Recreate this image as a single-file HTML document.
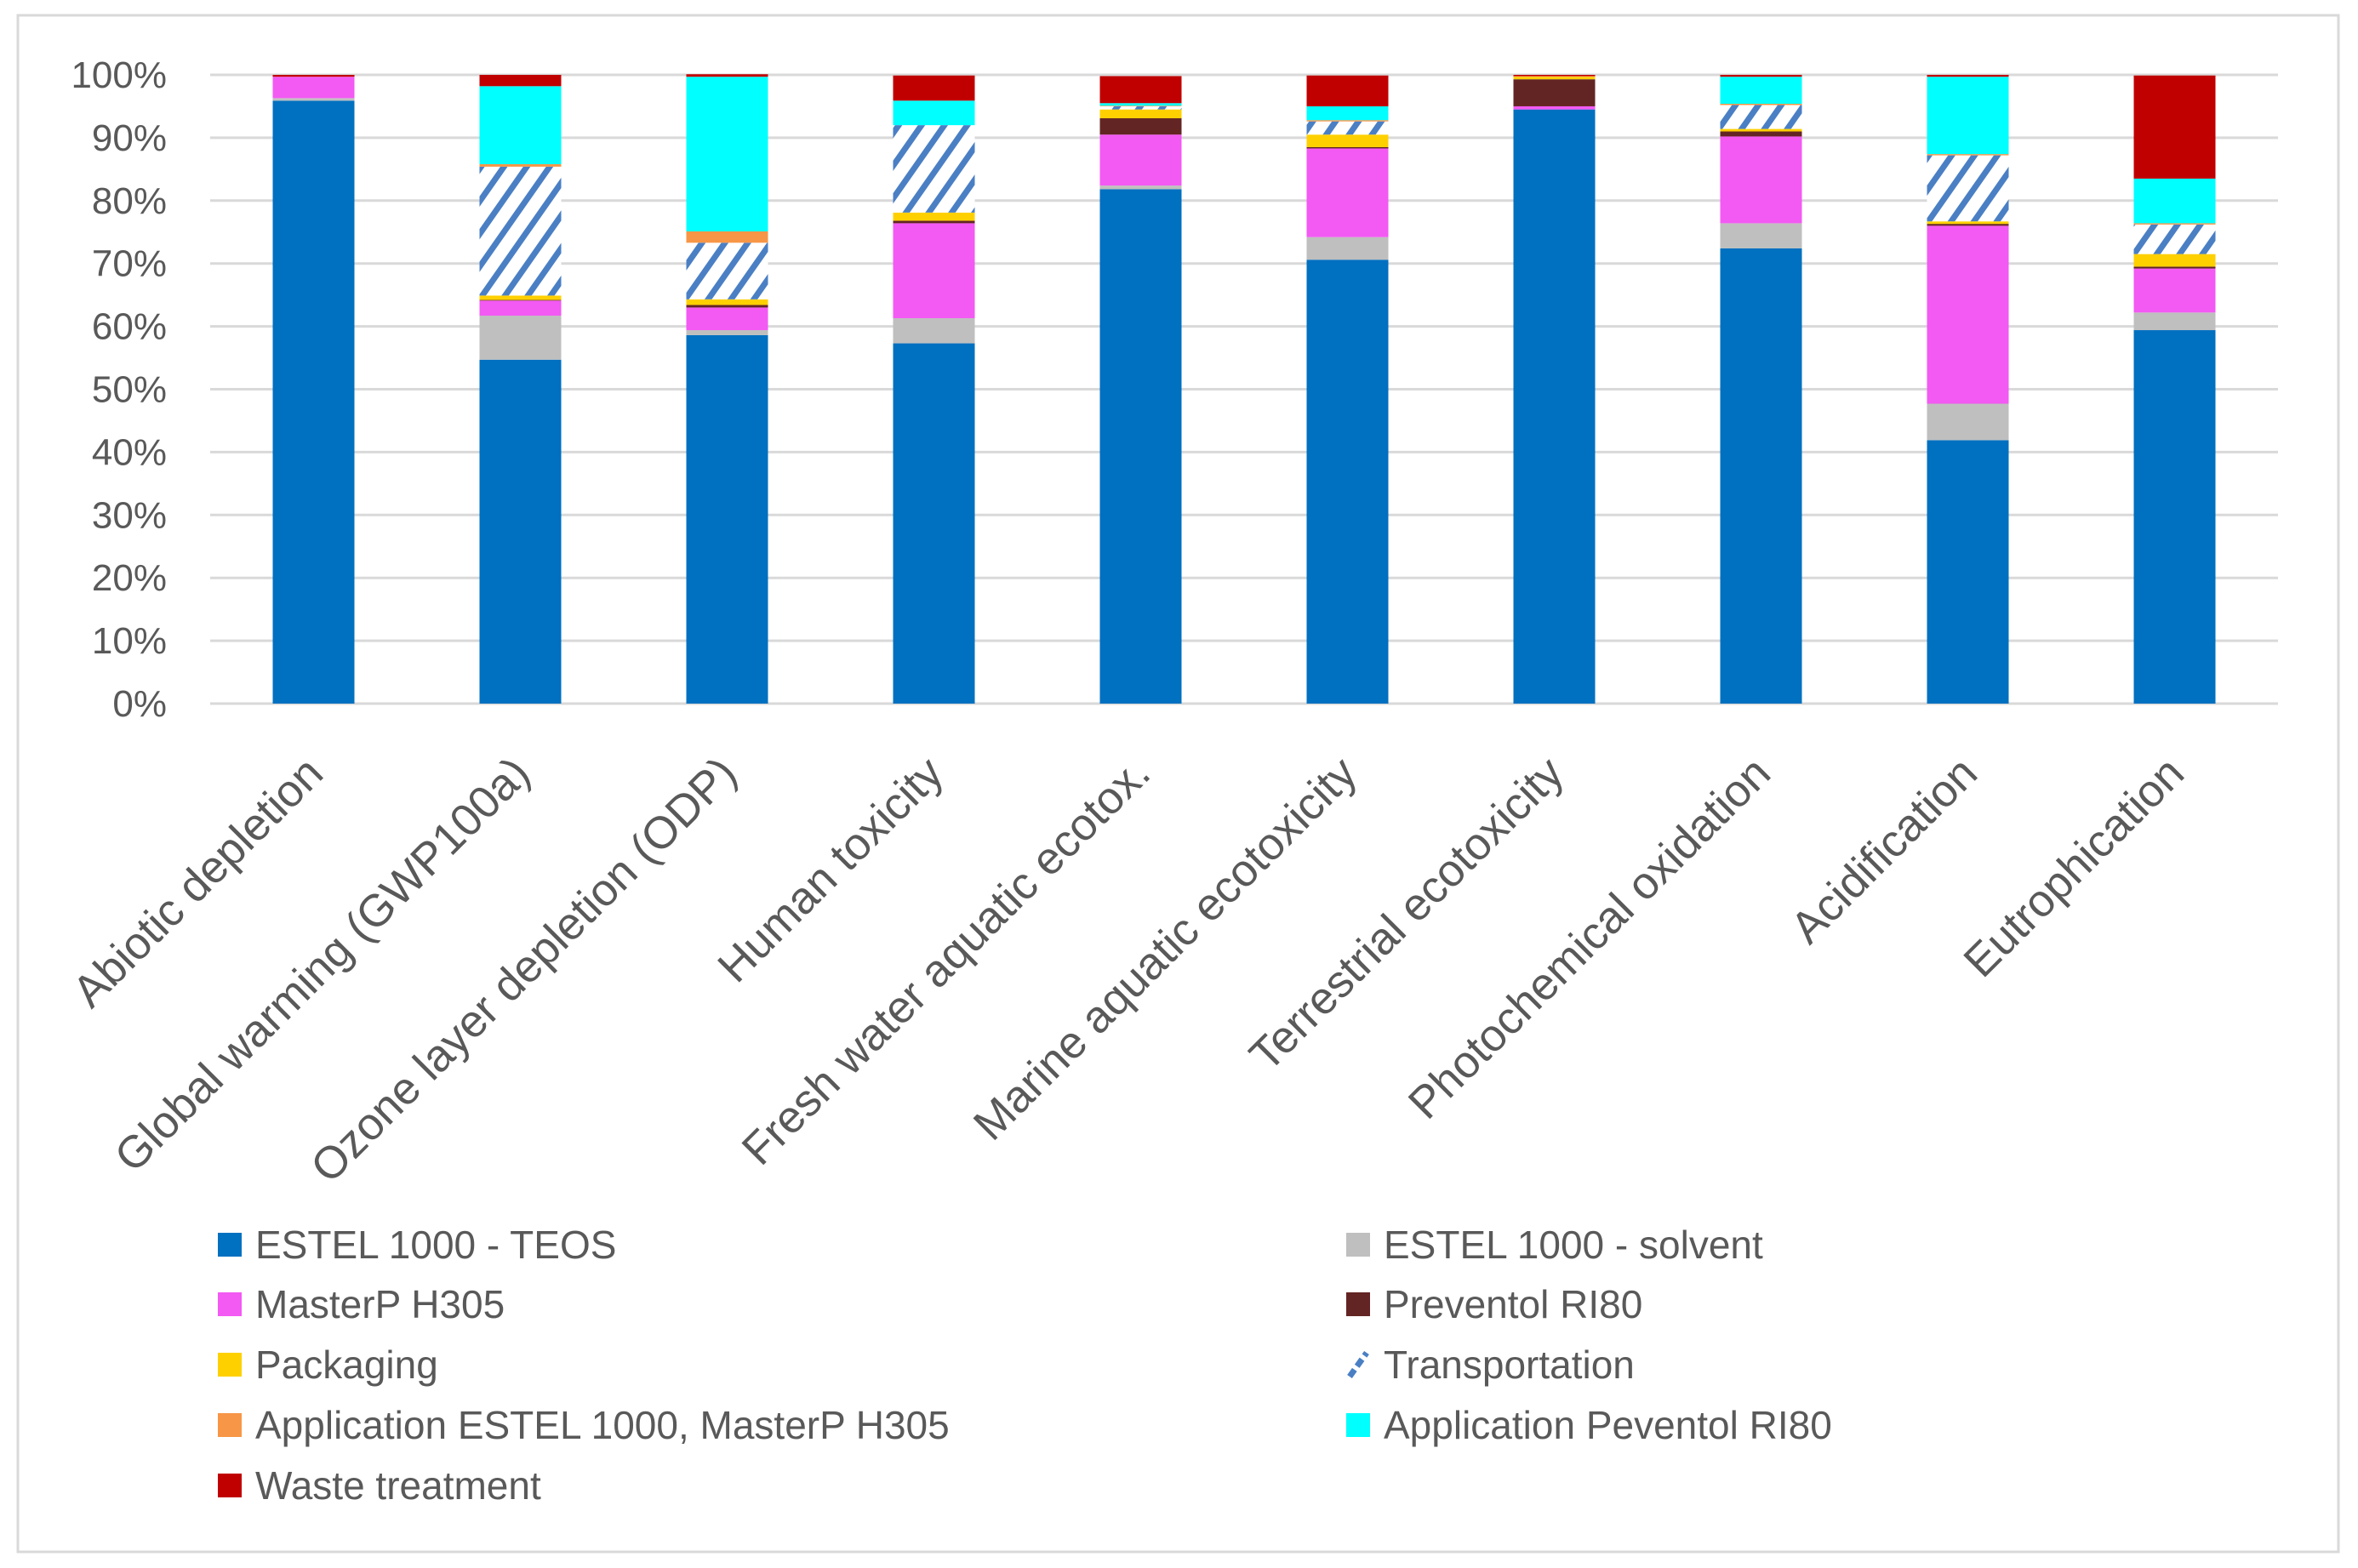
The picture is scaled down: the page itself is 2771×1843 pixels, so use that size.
<!DOCTYPE html>
<html><head><meta charset="utf-8"><style>
html,body{margin:0;padding:0;background:#fff;}
svg{display:block;font-family:"Liberation Sans",sans-serif;}
</style></head><body>
<svg id="chart" width="2771" height="1843" viewBox="0 0 2771 1843" xmlns="http://www.w3.org/2000/svg">
<defs>
<pattern id="stripes" patternUnits="userSpaceOnUse" width="22" height="22" patternTransform="rotate(35)">
<rect width="22" height="22" fill="#fff"/>
<rect x="0" y="0" width="7" height="22" fill="#4a7fc4"/>
</pattern>
</defs>
<rect x="21" y="18" width="2727" height="1806" fill="#fff" stroke="#d9d9d9" stroke-width="3"/>
<g id="grid"></g><g id="bars"></g><g id="ylabels"></g><g id="xlabels"></g><g id="legend"></g>
</svg>
<script>
const categories=["Abiotic depletion","Global warming (GWP100a)","Ozone layer depletion (ODP)","Human toxicity","Fresh water aquatic ecotox.","Marine aquatic ecotoxicity","Terrestrial ecotoxicity","Photochemical oxidation","Acidification","Eutrophication"];
const seriesNames=["ESTEL 1000 - TEOS","ESTEL 1000 - solvent","MasterP H305","Preventol RI80","Packaging","Transportation","Application ESTEL 1000, MasterP H305","Application Peventol RI80","Waste treatment"];
const teos=[95.9,54.7,58.6,57.3,81.8,70.6,94.5,72.4,41.9,59.4];
const solvent=[0.4,7.0,0.8,4.0,0.6,3.6,0,4.0,5.8,2.8];
const masterP=[3.4,2.4,3.6,15.1,8.1,14.1,0.5,13.8,28.3,7.0];
const preventol=[0,0.1,0.4,0.4,2.6,0.2,4.3,0.8,0.3,0.3];
const packaging=[0,0.7,0.9,1.3,1.4,2.0,0.4,0.4,0.4,2.0];
const transport=[0,20.5,9.0,13.9,0.5,2.1,0,3.8,10.5,4.7];
const applEstel=[0,0.4,1.8,0,0.1,0.2,0.1,0.2,0.2,0.2];
const applPrev=[0,12.4,24.6,3.9,0.4,2.2,0,4.3,12.3,7.1];
const waste=[0.3,1.8,0.4,4.0,4.3,4.9,0.2,0.3,0.3,16.4];
const yTicks=["0%","10%","20%","30%","40%","50%","60%","70%","80%","90%","100%"];
const series=[teos,solvent,masterP,preventol,packaging,transport,applEstel,applPrev,waste];
const colors=["#0070c0","#bfbfbf","#f359f3","#632523","#ffd000","url(#stripes)","#f79646","#00ffff","#c00000"];
const NS="http://www.w3.org/2000/svg";
const L=247,R=2677,T=88,B=827,BW=96;
const band=(R-L)/categories.length;
const x=i=>L+band*(i+0.5);
const y=v=>B-(B-T)*v/100;
function mk(tag,attrs,parent){const e=document.createElementNS(NS,tag);for(const k in attrs)e.setAttribute(k,attrs[k]);parent.appendChild(e);return e;}
const grid=document.getElementById('grid'),bars=document.getElementById('bars'),yl=document.getElementById('ylabels'),xl=document.getElementById('xlabels'),lg=document.getElementById('legend');
yTicks.forEach((t,i)=>{const v=i*10;
 const g=mk('line',{x1:L,x2:R,y1:y(v),y2:y(v),stroke:'#d9d9d9','stroke-width':3},grid);
 
 
 const tx=mk('text',{x:196,y:y(v)+15,'text-anchor':'end','font-size':44,fill:'#595959'},yl);
 tx.textContent=t;
 
 
});
categories.forEach((c,i)=>{let acc=0;
 series.forEach((s,j)=>{const v=s[i];if(v<=0)return;
  const r=mk('rect',{x:x(i)-BW/2,y:y(acc+v),width:BW,height:y(acc)-y(acc+v),fill:colors[j]},bars);
  
  
  acc+=v;});
 const t=mk('text',{'text-anchor':'end','font-size':53,fill:'#595959',transform:'translate('+(x(i)+14)+',912) rotate(-45)'},xl);
 t.textContent=c;
 
 
});
const rowsY=[1463,1533,1604,1675,1746];
seriesNames.forEach((n,k)=>{const col=k%2,row=Math.floor(k/2);
 const mx=col?1582:256,cy=rowsY[row];
 if(k===5){const m=mk('path',{d:'M'+(mx+4)+' '+(cy+14)+' L'+(mx+24)+' '+(cy-14),stroke:'#4a7fc4','stroke-width':7,'stroke-dasharray':'10 5',fill:'none'},lg);
  
  }
 else{const m=mk('rect',{x:mx,y:cy-14,width:28,height:28,fill:colors[k]},lg);
  
  }
 const t=mk('text',{x:mx+44,y:cy+16,'font-size':46,fill:'#595959'},lg);
 t.textContent=n;
 
 
});
</script>
</body></html>
